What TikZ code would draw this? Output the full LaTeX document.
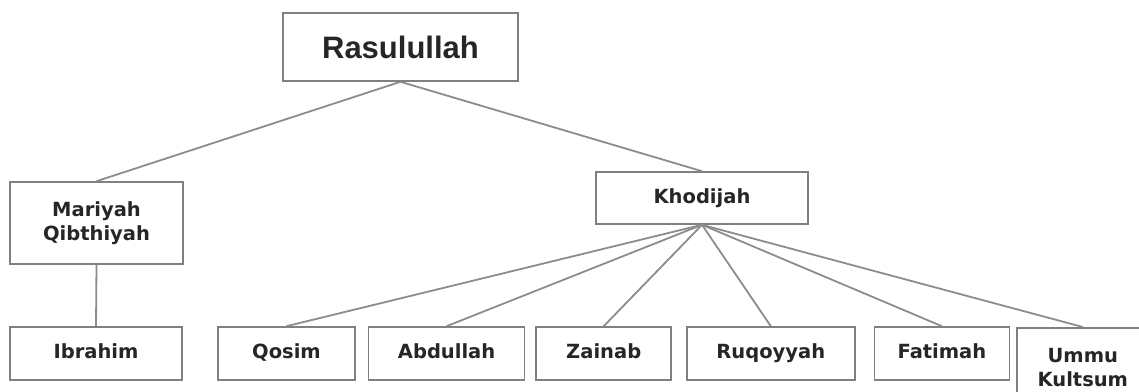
\documentclass[tikz,border=0pt]{standalone}
\usepackage{fontspec}
\usetikzlibrary{positioning}
\newfontfamily\kidfont{DejaVu Sans}
\newfontfamily\headfont{Liberation Sans}
\tikzset{
    person/.style={draw=black!50, line width=1.6pt, fill=white, text=black!85,
        align=center, inner sep=0pt, minimum height=53pt,
        font=\kidfont\bfseries\fontsize{19.5}{24}\selectfont},
    oneline/.style={text height=14pt, text depth=4pt},
    link/.style={draw=black!45, line width=1.8pt}
}
\begin{document}
\begin{tikzpicture}[x=1pt, y=-1pt]
            \useasboundingbox (0,0) rectangle (1139,391);

            \node[person, minimum width=235pt, minimum height=68pt,
                font=\headfont\bfseries\fontsize{31}{36}\selectfont] (rasul) at (400.5,47) {Rasulullah};
            \node[person, minimum width=173pt, minimum height=82pt] (mariyah) at (96.5,223) {Mariyah\\Qibthiyah};
            \node[person, oneline, minimum width=212pt, minimum height=52pt] (khodijah) at (702,198) {Khodijah};

            \node[person, oneline, minimum width=172pt] (ibrahim) at (96,353.5) {Ibrahim};
            \node[person, oneline, minimum width=137pt] (qosim) at (286.5,353.5) {Qosim};
            \node[person, oneline, minimum width=156pt, right = 12pt of qosim] (abdullah) {Abdullah};
            \node[person, oneline, minimum width=135pt, right = 10pt of abdullah] (zainab) {Zainab};
            \node[person, oneline, minimum width=168pt, right = 14pt of zainab] (ruqoyyah) {Ruqoyyah};
            \node[person, oneline, minimum width=135pt, right = 18pt of ruqoyyah] (fatimah) {Fatimah};
            \node[person, minimum width=132pt, minimum height=80pt, anchor=north west]
                (ummu) at (1016,327) {Ummu\\Kultsum};

            \draw[link] (rasul.south) -- (mariyah.north);
            \draw[link] (rasul.south) -- (khodijah.north);
            \draw[link] (mariyah.south) -- (ibrahim.north);
            \foreach \kid in {qosim, abdullah, zainab, ruqoyyah, fatimah, ummu}
                \draw[link] (khodijah.south) -- (\kid.north);
        \end{tikzpicture}
\end{document}
